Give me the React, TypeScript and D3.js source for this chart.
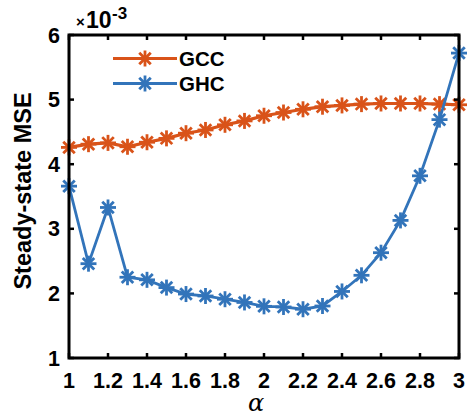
import React from "react";
import * as d3 from "d3";

const alpha = [1, 1.1, 1.2, 1.3, 1.4, 1.5, 1.6, 1.7, 1.8, 1.9, 2, 2.1, 2.2, 2.3, 2.4, 2.5, 2.6, 2.7, 2.8, 2.9, 3];
// values in units of 1e-3
const gcc = [4.26, 4.31, 4.33, 4.27, 4.34, 4.4, 4.48, 4.53, 4.61, 4.67, 4.75, 4.8, 4.85, 4.89, 4.91, 4.93, 4.94, 4.94, 4.94, 4.93, 4.92];
const ghc = [3.66, 2.46, 3.33, 2.25, 2.21, 2.09, 1.99, 1.96, 1.91, 1.86, 1.8, 1.79, 1.755, 1.805, 2.03, 2.28, 2.63, 3.13, 3.82, 4.69, 5.72];
const xTicks = [1, 1.2, 1.4, 1.6, 1.8, 2, 2.2, 2.4, 2.6, 2.8, 3];
const yTicks = [1, 2, 3, 4, 5, 6];
const seriesNames = ["GCC", "GHC"];
const colors = ["#D95319", "#3274BA"];

const W = 469, H = 417;
const L = 69, R = 459, T = 35, B = 358;

// MATLAB-style asterisk marker: "+" overlaid with "x"
const Star = ({ x, y, color }: { x: number; y: number; color: string }) => {
  const r = 8, d = r * 0.72;
  return (
    <g stroke={color} strokeWidth={2.8} strokeLinecap="butt">
      <line x1={x - r} y1={y} x2={x + r} y2={y} />
      <line x1={x} y1={y - r} x2={x} y2={y + r} />
      <line x1={x - d} y1={y - d} x2={x + d} y2={y + d} />
      <line x1={x - d} y1={y + d} x2={x + d} y2={y - d} />
    </g>
  );
};

export default function App() {
  const x = d3.scaleLinear().domain([1, 3]).range([L, R]);
  const y = d3.scaleLinear().domain([1, 6]).range([B, T]);
  const line = d3.line<number>().x((_, i) => x(alpha[i])).y((v) => y(v));
  const font = "'Liberation Sans', Arial, sans-serif";
  const series = [gcc, ghc];
  return (
    <svg width={W} height={H} style={{ position: "absolute", left: 0, top: 0 }} fontFamily={font}>
      <rect width={W} height={H} fill="#fff" />
      {series.map((s, k) => (
        <g key={k}>
          <path d={line(s) || ""} fill="none" stroke={colors[k]} strokeWidth={k === 0 ? 3.2 : 2.8} />
          {s.map((v, i) => (
            <Star key={i} x={x(alpha[i])} y={y(v)} color={colors[k]} />
          ))}
        </g>
      ))}
      {/* axes box */}
      <rect x={L} y={T} width={R - L} height={B - T} fill="none" stroke="#000" strokeWidth={3} />
      {xTicks.map((t) => (
        <g key={t}>
          <line x1={x(t)} x2={x(t)} y1={B} y2={B - 5} stroke="#000" strokeWidth={2.5} />
          <line x1={x(t)} x2={x(t)} y1={T} y2={T + 5} stroke="#000" strokeWidth={2.5} />
          <text x={x(t)} y={388} textAnchor="middle" fontSize={21.5} fontWeight="bold">{t}</text>
        </g>
      ))}
      {yTicks.map((t) => (
        <g key={t}>
          <line x1={L} x2={L + 5} y1={y(t)} y2={y(t)} stroke="#000" strokeWidth={2.5} />
          <line x1={R} x2={R - 5} y1={y(t)} y2={y(t)} stroke="#000" strokeWidth={2.5} />
          <text x={L - 9} y={y(t) + 7.5} textAnchor="end" fontSize={21.5} fontWeight="bold">{t}</text>
        </g>
      ))}
      <text x={76} y={27} fontSize={15} fontWeight="bold">×</text>
      <text x={86} y={28} fontSize={23} fontWeight="bold">10</text>
      <text x={112} y={19} fontSize={17} fontWeight="bold">-3</text>
      <text transform={`translate(31,191) rotate(-90)`} textAnchor="middle" fontSize={23.5} fontWeight="bold">Steady-state MSE</text>
      <text x={256} y={411} textAnchor="middle" fontSize={24} fontStyle="italic" fontFamily="'DejaVu Serif', serif">α</text>
      {/* legend */}
      {seriesNames.map((n, k) => {
        const ly = 58.5 + k * 25;
        return (
          <g key={n}>
            <line x1={113} x2={177} y1={ly} y2={ly} stroke={colors[k]} strokeWidth={k === 0 ? 3.2 : 2.8} />
            <Star x={145} y={ly} color={colors[k]} />
            <text x={179} y={ly + 7.5} fontSize={20.5} fontWeight="bold">{n}</text>
          </g>
        );
      })}
    </svg>
  );
}
